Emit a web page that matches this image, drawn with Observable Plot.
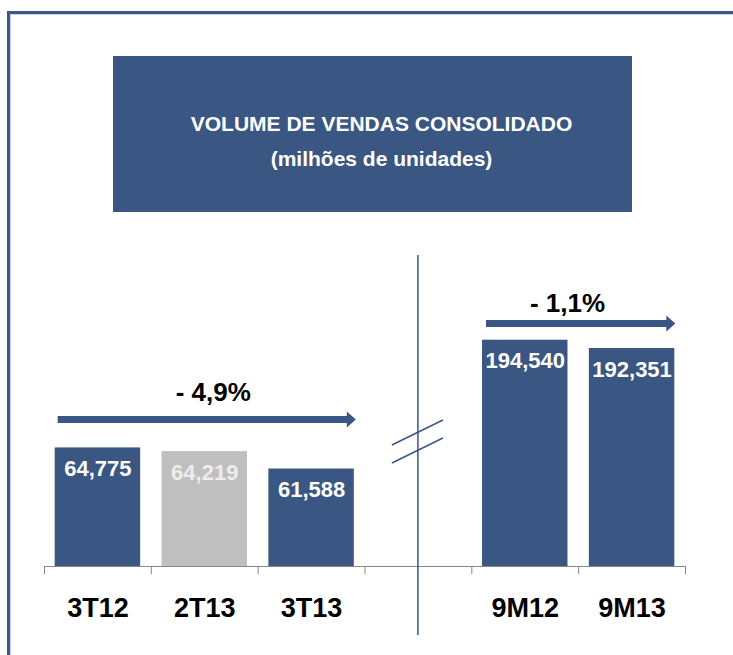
<!DOCTYPE html>
<html>
<head>
<meta charset="utf-8">
<script src="https://cdn.jsdelivr.net/npm/d3@7"></script>
<script src="https://cdn.jsdelivr.net/npm/@observablehq/plot@0.6"></script>
<style>
  body { margin: 0; background: #fff; }
  #wrap { position: relative; width: 733px; height: 655px; overflow: hidden;
          font-family: "Liberation Sans", Arial, sans-serif; background: #fff; }
  #frame { position: absolute; left: 7px; top: 11px; width: 900px; height: 900px;
           border-left: 3px solid #3A5A87; border-top: 3px solid #3A5A87;
           box-shadow: inset 1px 1px 0 #C9D5E4; }
  #title { position: absolute; left: 113px; top: 56px; width: 519px; height: 156px;
           background: #3A5783; color: #fff; font-weight: bold; font-size: 21px; }
  #title div { position: absolute; left: 18px; right: 0; text-align: center;
               line-height: 24px; white-space: nowrap; }
  .layer { position: absolute; left: 0; top: 0; }
</style>
</head>
<body>
<div id="wrap">
  <div id="frame"></div>
  <div id="title">
    <div id="t1" style="top:56px"></div>
    <div id="t2" style="top:91px"></div>
  </div>
</div>
<script>
// ---- data ----
const titleLine1 = "VOLUME DE VENDAS CONSOLIDADO";
const titleLine2 = "(milhões de unidades)";
const categories = ["3T12", "2T13", "3T13", " ", "9M12", "9M13"];
const quarterCats = ["3T12", "2T13", "3T13"];
const quarterValues = [64775, 64219, 61588];
const quarterLabels = ["64,775", "64,219", "61,588"];
const quarterHighlight = [true, false, true];
const ytdCats = ["9M12", "9M13"];
const ytdValues = [194540, 192351];
const ytdLabels = ["194,540", "192,351"];
const quarterChange = "- 4,9%";
const ytdChange = "- 1,1%";
// broken axis: each panel has its own (non-zero) value window
const quarterDomain = [46866, 132340];
const ytdDomain = [134862, 284124];

document.getElementById("t1").textContent = titleLine1;
document.getElementById("t2").textContent = titleLine2;

const BLUE = "#3A5783", GRAY = "#BFBFBF", AXIS = "#878787";
const W = 733, H = 655, mL = 44, mR = 48, mT = 0, mB = 89;
const pIn = 0.2, pOut = 0.1;
const step = (W - mL - mR) / (categories.length - pIn + 2 * pOut);
const font = "Liberation Sans, Arial, sans-serif";

const quarterData = quarterCats.map((c, i) => ({
  cat: c, value: quarterValues[i], label: quarterLabels[i],
  fill: quarterHighlight[i] ? BLUE : GRAY,
  text: quarterHighlight[i] ? "#FFFFFF" : "#EDEDED"
}));
const ytdData = ytdCats.map((c, i) => ({
  cat: c, value: ytdValues[i], label: ytdLabels[i], fill: BLUE, text: "#FFFFFF"
}));

const xScale = { type: "band", domain: categories, paddingInner: pIn, paddingOuter: pOut,
                 round: false, label: null };
const common = {
  width: W, height: H, marginLeft: mL, marginRight: mR, marginTop: mT, marginBottom: mB,
  color: { type: "identity" },
  style: { background: "transparent", fontFamily: font, overflow: "visible" }
};

const left = Plot.plot({
  ...common,
  x: xScale,
  y: { domain: quarterDomain, axis: null },
  marks: [
    Plot.barY(quarterData, { x: "cat", y1: quarterDomain[0], y2: "value", fill: "fill" }),
    Plot.text(quarterData, { x: "cat", y: "value", text: "label", dy: 21, fill: "text",
                             fontSize: 22, fontWeight: "bold" }),
    Plot.ruleY([quarterDomain[0]], { stroke: AXIS }),
    Plot.axisX({ tickSize: 8, tickFormat: () => "", dx: -step / 2, stroke: AXIS, label: null }),
    Plot.axisX({ ticks: [categories[categories.length - 1]], tickSize: 8, tickFormat: () => "",
                 dx: step / 2, stroke: AXIS, label: null }),
    Plot.axisX({ tickSize: 0, tickPadding: 31, fontSize: 27, fontWeight: "bold", fill: "#000",
                 label: null })
  ]
});

const right = Plot.plot({
  ...common,
  x: { ...xScale, axis: null },
  y: { domain: ytdDomain, axis: null },
  marks: [
    Plot.barY(ytdData, { x: "cat", y1: ytdDomain[0], y2: "value", fill: "fill" }),
    Plot.text(ytdData, { x: "cat", y: "value", text: "label", dy: 21, fill: "text",
                         fontSize: 22, fontWeight: "bold" })
  ]
});

left.classList.add("layer");
right.classList.add("layer");
const wrap = document.getElementById("wrap");
wrap.appendChild(left);
wrap.appendChild(right);

// ---- decorations positioned with the plot's x scale ----
const xs = left.scale("x");
const bw = xs.bandwidth;
const bandStart = c => xs.apply(c);
const svg = d3.select(right);

function arrow(x0, x1, yc) {
  const pts = [[x0, yc - 3.5], [x1 - 9, yc - 3.5], [x1 - 9, yc - 8], [x1, yc],
               [x1 - 9, yc + 8], [x1 - 9, yc + 3.5], [x0, yc + 3.5]];
  svg.append("polygon").attr("points", pts.map(p => p.join(",")).join(" ")).attr("fill", BLUE);
}
arrow(bandStart(quarterCats[0]) + 3, bandStart(quarterCats[2]) + bw + 2, 419.5);
arrow(bandStart(ytdCats[0]) + 4, bandStart(ytdCats[1]) + bw + 1, 323.5);

function label(txt, x, y) {
  svg.append("text").attr("x", x).attr("y", y).attr("text-anchor", "middle")
    .attr("font-family", font).attr("font-weight", "bold").attr("font-size", 26)
    .attr("fill", "#000").text(txt);
}
label(quarterChange, bandStart(quarterCats[1]) + bw / 2 + 9, 401);
label(ytdChange, bandStart(ytdCats[0]) + bw, 312);

// divider and break marks
const xd = bandStart(categories[3]) + bw / 2;
svg.append("line").attr("x1", xd).attr("x2", xd).attr("y1", 255).attr("y2", 635)
  .attr("stroke", BLUE).attr("stroke-width", 1.5);
[0, 18].forEach(o => {
  svg.append("line").attr("x1", xd - 26).attr("y1", 445 + o).attr("x2", xd + 25).attr("y2", 420 + o)
    .attr("stroke", BLUE).attr("stroke-width", 1.5);
});
</script>
</body>
</html>
